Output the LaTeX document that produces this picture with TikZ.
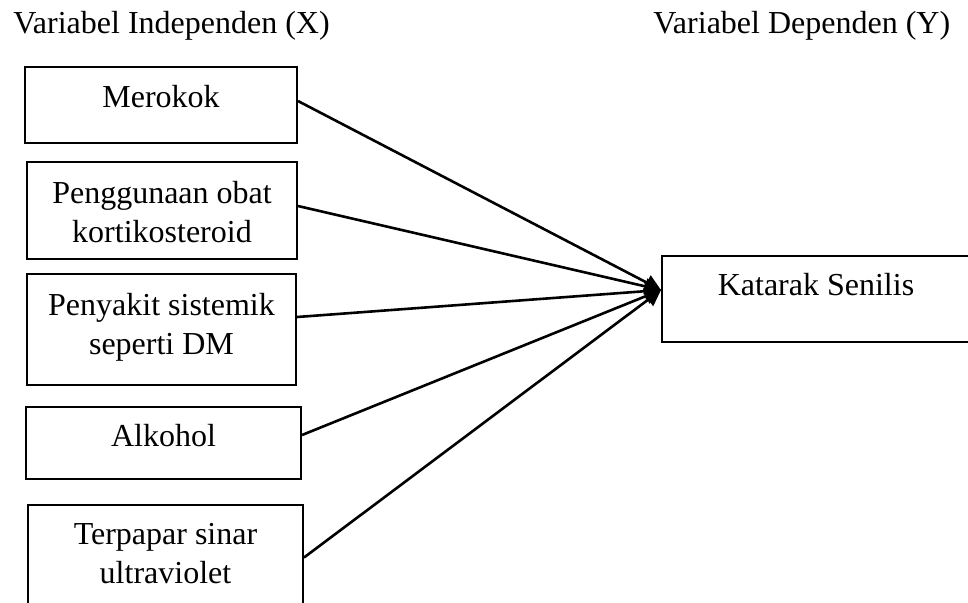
\documentclass[tikz,border=0pt]{standalone}
\usepackage{fontspec}
\setmainfont{Liberation Serif}
\usetikzlibrary{arrows.meta,positioning}

\begin{document}
\begin{tikzpicture}[x=0.5pt,y=-0.5pt,
	kotak/.style={draw,line width=1pt,inner sep=0pt},
	teks/.style={font=\fontsize{16}{19.5}\selectfont,align=center,inner sep=0pt},
	panah/.style={line width=1.3pt,-{Triangle[length=8pt,width=8pt]}}]
	\useasboundingbox (0,0) rectangle (968,602);
	\clip (0,0) rectangle (968,602);
	% judul
	\node[teks,anchor=base west] (judulX) at (13,33) {Variabel Independen (X)};
	\node[teks,anchor=base west] (judulY) at (653,33) {Variabel Dependen (Y)};
	% kotak variabel independen
	\node[kotak,minimum width=136pt,minimum height=38pt] (m1) at (161,105) {};
	\node[kotak,minimum width=135pt,minimum height=48.5pt] (m2) at (162,210.5) {};
	\node[kotak,minimum width=134.5pt,minimum height=55.5pt] (m3) at (161.5,329.5) {};
	\node[kotak,minimum width=137.5pt,minimum height=36pt] (m4) at (163.5,443) {};
	\node[kotak,minimum width=137.5pt,minimum height=52.5pt] (m5) at (165.5,557.5) {};
	\node[teks,below=9.5pt of m1.north] (t1) {Merokok};
	\node[teks,below=10pt of m2.north] (t2) {Penggunaan obat\\kortikosteroid};
	\node[teks,below=10pt of m3.north] (t3) {Penyakit sistemik\\seperti DM};
	\node[teks,below=9pt of m4.north] (t4) {Alkohol};
	\node[teks,below=9.5pt of m5.north] (t5) {Terpapar sinar\\ultraviolet};
	% kotak variabel dependen
	\node[kotak,minimum width=154pt,minimum height=43pt] (k) at (816,299) {};
	\node[teks,below=9pt of k.north] (tk) {Katarak Senilis};
	% panah
	\coordinate (ujung) at ([yshift=4.5pt]k.west);
	\draw[panah] ([yshift=2pt]m1.east) -- (ujung);
	\draw[panah] ([yshift=2.25pt]m2.east) -- (ujung);
	\draw[panah] ([yshift=6.25pt]m3.east) -- (ujung);
	\draw[panah] ([yshift=4pt]m4.east) -- (ujung);
	\draw[panah] (m5.east) -- (ujung);
\end{tikzpicture}
\end{document}
